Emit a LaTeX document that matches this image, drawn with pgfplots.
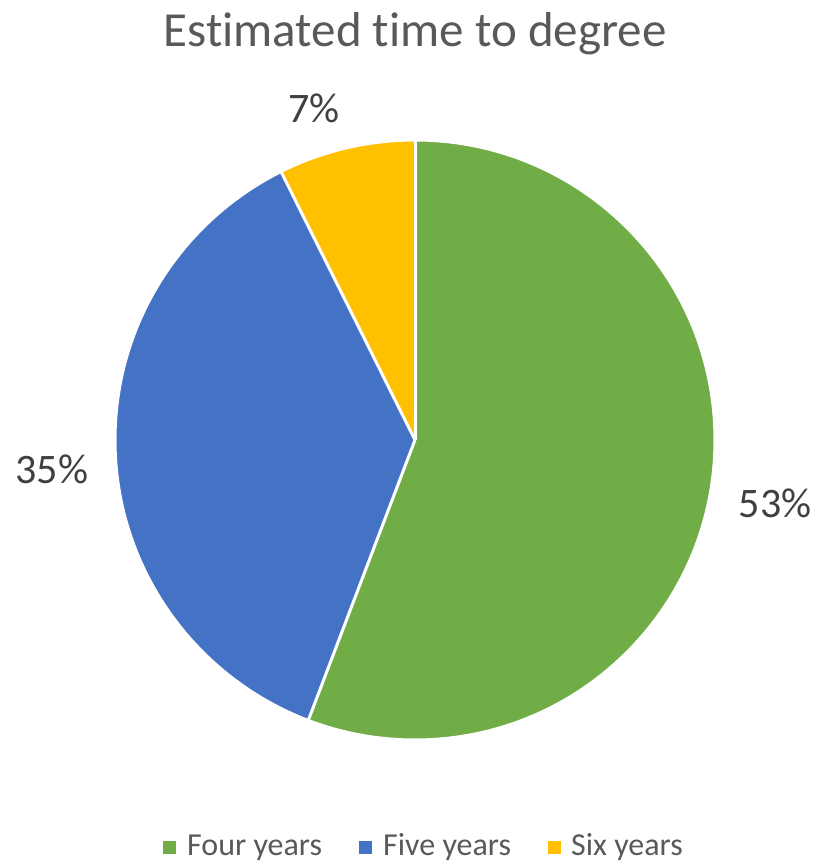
\documentclass[border=0pt]{standalone}
\usepackage{pgfplots}
\usepackage{pgfplotstable}
\pgfplotsset{compat=1.18}
\usepackage{fontspec}
\setmainfont{Carlito}[Ligatures=NoCommon]

\definecolor{fourC}{HTML}{70AD47}
\definecolor{fiveC}{HTML}{4472C4}
\definecolor{sixC}{HTML}{FFC000}
\definecolor{titleC}{HTML}{595959}
\definecolor{labelC}{HTML}{404040}

% share of students by estimated time to degree
\pgfplotstableread{
label value
Four  53
Five  35
Six   7
}\piedata

\pgfplotstablegetelem{0}{value}\of\piedata \let\vA\pgfplotsretval
\pgfplotstablegetelem{1}{value}\of\piedata \let\vB\pgfplotsretval
\pgfplotstablegetelem{2}{value}\of\piedata \let\vC\pgfplotsretval
\pgfmathsetmacro\tot{\vA+\vB+\vC}
% slices run clockwise from twelve o'clock
\pgfmathsetmacro\aO{90}
\pgfmathsetmacro\aA{\aO-360*(\vA/\tot)}
\pgfmathsetmacro\aB{\aA-360*(\vB/\tot)}
\pgfmathsetmacro\aC{\aB-360*(\vC/\tot)}

\begin{document}
\begin{tikzpicture}
\begin{axis}[
  width=815pt, height=863pt, scale only axis,
  xmin=0, xmax=815, ymin=0, ymax=863,
  hide axis, clip=false,
]
\path (rel axis cs:0,0) rectangle (rel axis cs:1,1);
% slices
\fill[fourC] (axis cs:415,423) -- ++(\aO:300pt) arc[start angle=\aO, end angle=\aA, radius=300pt] -- cycle;
\fill[fiveC] (axis cs:415,423) -- ++(\aA:300pt) arc[start angle=\aA, end angle=\aB, radius=300pt] -- cycle;
\fill[sixC]  (axis cs:415,423) -- ++(\aB:300pt) arc[start angle=\aB, end angle=\aC, radius=300pt] -- cycle;
% white separators
\draw[white, line width=3pt, line join=round] (axis cs:415,423) -- ++(\aO:300pt);
\draw[white, line width=3pt, line join=round] (axis cs:415,423) -- ++(\aA:300pt);
\draw[white, line width=3pt, line join=round] (axis cs:415,423) -- ++(\aB:300pt);
\draw[white, line width=3pt] (axis cs:415,423) ++(\aO:300pt) arc[start angle=\aO, end angle=\aC, radius=300pt];

% title
\node[anchor=base, text=titleC, font=\fontsize{49}{58}\selectfont, inner sep=0pt]
  at (axis cs:415,816) {Estimated time to degree};

% data labels
\node[anchor=base, text=labelC, font=\fontsize{42}{50}\selectfont, inner sep=0pt]
  at (axis cs:775,345) {\vA\%};
\node[anchor=base, text=labelC, font=\fontsize{42}{50}\selectfont, inner sep=0pt]
  at (axis cs:52,379) {\vB\%};
\node[anchor=base, text=labelC, font=\fontsize{42}{50}\selectfont, inner sep=0pt]
  at (axis cs:314,740) {\vC\%};

% legend
\fill[fourC] (axis cs:163,9) rectangle (axis cs:176,22);
\node[anchor=base west, text=titleC, font=\fontsize{32}{38}\selectfont, inner sep=0pt]
  at (axis cs:187,8) {Four years};
\fill[fiveC] (axis cs:359,9) rectangle (axis cs:372,22);
\node[anchor=base west, text=titleC, font=\fontsize{32}{38}\selectfont, inner sep=0pt]
  at (axis cs:383,8) {Five years};
\fill[sixC] (axis cs:548,9) rectangle (axis cs:561,22);
\node[anchor=base west, text=titleC, font=\fontsize{32}{38}\selectfont, inner sep=0pt]
  at (axis cs:571,8) {Six years};
\end{axis}
\end{tikzpicture}
\end{document}
